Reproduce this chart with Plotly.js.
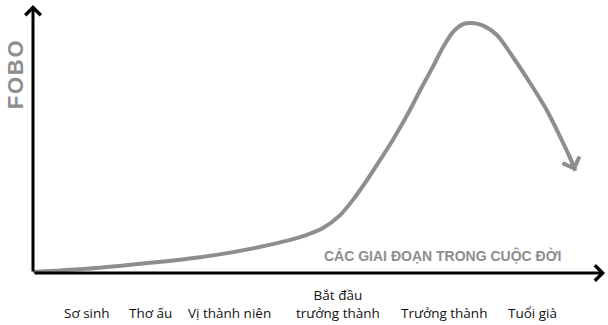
<!DOCTYPE html>
<html><head><meta charset="utf-8">
<script src="https://cdn.plot.ly/plotly-3.0.1.min.js"></script>
<style>html,body{margin:0;padding:0;background:#fff}#chart{width:608px;height:325px}</style>
</head><body><div id="chart"></div>
<script>
// FOBO level across life stages (x: life progress 0-100, y: FOBO 0-100)
const curveX = [0, 11.7, 20.5, 29.2, 35.0, 40.9, 46.7, 50.7, 53.7, 55.9, 58.4, 60.7, 62.9, 65.9, 67.7, 69.9, 71.7, 73.4, 75.2, 76.7, 78.5, 81.1, 83.9, 86.9, 89.7, 92.1, 93.9, 94.8];
const curveY = [0.4, 2.0, 3.8, 5.9, 7.8, 10.3, 13.4, 16.8, 21.6, 27.2, 34.7, 42.2, 49.6, 60.8, 68.3, 76.9, 84.3, 89.9, 92.9, 93.3, 92.5, 88.8, 80.6, 70.9, 61.2, 51.1, 42.9, 38.1];
const stages = ['Sơ sinh', 'Thơ ấu', 'Vị thành niên', 'Bắt đầu<br>trưởng thành', 'Trưởng thành', 'Tuổi già'];
const stageX = [9.4, 20.5, 34.3, 53.3, 71.9, 87.4];
const xTitle = 'CÁC GIAI ĐOẠN TRONG CUỘC ĐỜI';
const yTitle = 'F\u200AO\u200AB\u200AO';

const gray = '#8e8e8e';
const labelFont = {family: '"Open Sans", "Noto Sans", sans-serif', size: 13.5, color: '#111'};

const annotations = [];
// axis arrows
annotations.push({xref: 'paper', yref: 'paper', x: 1, y: 0, ax: -572, ay: 0, text: '', showarrow: true, arrowhead: 4, arrowwidth: 3, arrowsize: 1, arrowcolor: '#000', standoff: 0});
annotations.push({xref: 'paper', yref: 'paper', x: 0, y: 1, ax: 0, ay: 268, text: '', showarrow: true, arrowhead: 4, arrowwidth: 3, arrowsize: 1, arrowcolor: '#000', standoff: 0});
// curve arrow head
annotations.push({xref: 'x', yref: 'y', x: curveX[curveX.length - 1], y: curveY[curveY.length - 1], ax: -7, ay: -18, text: '', showarrow: true, arrowhead: 4, arrowwidth: 3.5, arrowsize: 1, arrowcolor: gray, standoff: 0});
// stage labels
stages.forEach((s, i) => {
  annotations.push({xref: 'x', yref: 'paper', x: stageX[i], y: -0.19, yanchor: 'bottom', xanchor: 'center', text: s, showarrow: false, font: labelFont, align: 'center'});
});
// titles
annotations.push({xref: 'x', yref: 'paper', x: 71.7, y: 0.067, xanchor: 'center', yanchor: 'middle', text: '<b>' + xTitle + '</b>', showarrow: false, font: {family: '"Liberation Sans", Arial, sans-serif', size: 14, color: gray}});
annotations.push({xref: 'paper', yref: 'paper', x: -0.029, y: 0.739, xanchor: 'center', yanchor: 'middle', textangle: -90, text: '<b>' + yTitle + '</b>', showarrow: false, font: {family: '"Liberation Sans", Arial, sans-serif', size: 22, color: gray}});

const data = [{
  x: curveX, y: curveY, type: 'scatter', mode: 'lines',
  line: {color: gray, width: 4, shape: 'spline', smoothing: 0.8},
  hoverinfo: 'skip', cliponaxis: false
}];

const layout = {
  width: 608, height: 325,
  margin: {l: 33, r: 3, t: 5, b: 52, pad: 0},
  paper_bgcolor: '#fff', plot_bgcolor: '#fff',
  showlegend: false,
  xaxis: {range: [0, 100], showgrid: false, zeroline: false, showticklabels: false, showline: false, ticks: '', fixedrange: true},
  yaxis: {range: [0, 100], showgrid: false, zeroline: false, showticklabels: false, showline: false, ticks: '', fixedrange: true},
  annotations: annotations
};

Plotly.newPlot('chart', data, layout, {displayModeBar: false, staticPlot: true});
</script>
</body></html>
